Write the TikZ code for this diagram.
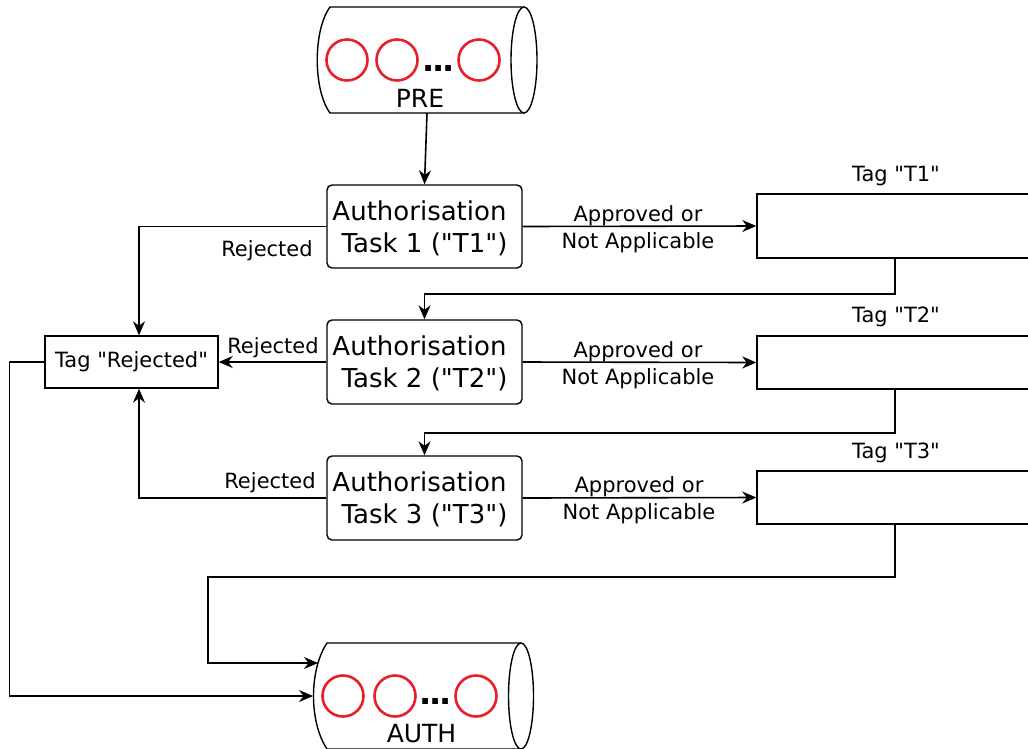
\documentclass[tikz,border=0pt]{standalone}
\usepackage{fontspec}
\setmainfont{DejaVu Sans}[Ligatures=TeXOff]
\usetikzlibrary{arrows.meta,calc}
\definecolor{tokred}{RGB}{232,30,40}
\tikzset{
  conn/.style={line width=1.6pt, draw=black},
  arr/.style={conn, -{Stealth[length=14pt,width=12pt,inset=4.5pt]}},
  shell/.style={line width=1.4pt},
  taskbox/.style={draw, line width=1.4pt, rounded corners=5pt, minimum width=195pt, inner sep=0pt, text depth=0pt, align=center, font=\fontsize{26}{32}\selectfont},
  tagbox/.style={draw, line width=1.4pt, minimum width=300pt, inner sep=0pt},
  lbl/.style={font=\fontsize{21}{24}\selectfont, align=center, inner sep=0pt},
  twoline/.style={lbl, font=\fontsize{21}{27}\selectfont},
  token/.style={draw=tokred, line width=2.6pt},
  storetxt/.style={font=\fontsize{25}{30}\selectfont, inner sep=0pt, anchor=base},
  dots/.style={font=\fontsize{32}{36}\selectfont\bfseries, inner sep=0pt, anchor=base},
}
\begin{document}
\begin{tikzpicture}[x=1pt,y=-1pt]
\clip (0,0) rectangle (1028,748);
\fill[white] (0,0) rectangle (1028,748);

% --- PRE store (horizontal cylinder) ---
\node[minimum width=220pt, minimum height=106pt, inner sep=0pt] (pre) at (427,60) {};
\draw[shell] (524,7) -- (330,7) .. controls (313,30) and (313,90) .. (330,113) -- (524,113);
\draw[shell] (524,60) ellipse [x radius=13pt, y radius=53pt];
\foreach \cx in {347,397,479} \draw[token] (\cx,60) circle [radius=20.5pt];
\node[dots] (predots) at (438.5,71) {.\kern-2.3pt.\kern-2.3pt.};
\node[storetxt] (prelbl) at (420,107) {PRE};

% --- AUTH store (horizontal cylinder) ---
\node[minimum width=220pt, minimum height=106pt, inner sep=0pt] (auth) at (424,696) {};
\draw[shell] (521,643) -- (327,643) .. controls (309,670) and (309,722) .. (327,749) -- (521,749);
\draw[shell] (521,696) ellipse [x radius=12.5pt, y radius=53pt];
\foreach \cx in {343,395,476} \draw[token] (\cx,696) circle [radius=20.5pt];
\node[dots] (authdots) at (435.5,704) {.\kern-2.3pt.\kern-2.3pt.};
\node[storetxt] (authlbl) at (421.5,742) {AUTH};
\coordinate (authin1) at (318,663);
\coordinate (authin2) at (313,696);

% --- authorisation tasks ---
\node[taskbox, minimum height=83pt] (t1) at (424.5,226.5) {Authorisation\hspace*{10pt}\\Task 1 ("T1")};
\node[taskbox, minimum height=84pt] (t2) at (424.5,362) {Authorisation\hspace*{10pt}\\Task 2 ("T2")};
\node[taskbox, minimum height=84pt] (t3) at (424.5,498) {Authorisation\hspace*{10pt}\\Task 3 ("T3")};

% --- tag boxes ---
\node[tagbox, minimum height=64pt] (tag1) at (907,226) {};
\node[tagbox, minimum height=53pt] (tag2) at (907,362.5) {};
\node[tagbox, minimum height=53pt] (tag3) at (907,497.5) {};
\node[lbl, anchor=base] (tag1lbl) at (896,181) {Tag "T1"};
\node[lbl, anchor=base] (tag2lbl) at (896,322) {Tag "T2"};
\node[lbl, anchor=base] (tag3lbl) at (896,458) {Tag "T3"};

\node[draw, line width=1.4pt, minimum width=173pt, minimum height=52pt, inner sep=0pt, font=\fontsize{21}{24}\selectfont] (rej) at (131.5,362) {Tag "Rejected"};

% helper columns
\coordinate (fx) at (895,0);
\coordinate (rx) at (139,0);
\coordinate (lx) at (208,0);

% --- flow ---
\draw[arr] (pre.south) -- (t1.north);

\draw[arr] (t1.east) -- (tag1.west);
\draw[arr] (t2.east) -- (tag2.west);
\draw[arr] (t3.east) -- (tag3.west);
\node[twoline] (ok1) at (638,229) {Approved or\\Not Applicable};
\node[twoline] (ok2) at (638,365) {Approved or\\Not Applicable};
\node[twoline] (ok3) at (639,500.5) {Approved or\\Not Applicable};

\draw[arr] (tag1.south -| fx) -- ++(0,35) -| (t2.north);
\draw[arr] (tag2.south -| fx) -- ++(0,43) -| (t3.north);
\draw[arr] (tag3.south -| fx) -- ++(0,52) -| (authin1 -| lx) -- (authin1);

\draw[arr] (t1.west) -| (rej.north -| rx);
\draw[arr] (t2.west) -- (rej.east);
\draw[arr] (t3.west) -| (rej.south -| rx);
\node[lbl, anchor=base] (rj1) at (267,256) {Rejected};
\node[lbl, anchor=base] (rj2) at (273,353) {Rejected};
\node[lbl, anchor=base] (rj3) at (270,488) {Rejected};

\draw[arr] (rej.west) -- ++(-35,0) |- (authin2);
\end{tikzpicture}
\end{document}
